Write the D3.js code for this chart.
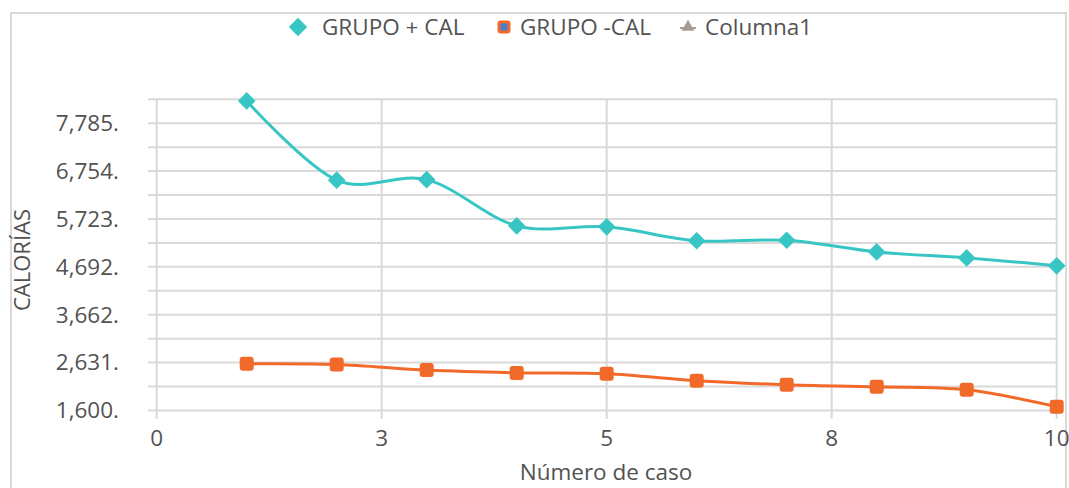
<!DOCTYPE html>
<html><head><meta charset="utf-8">
<script src="https://cdn.jsdelivr.net/npm/d3@7"></script>
<style>
body{margin:0;background:#fff;}
svg{display:block;font-family:"Open Sans",sans-serif;}
</style></head>
<body>
<script>
const caseNumbers = [1,2,3,4,5,6,7,8,9,10];
const grupoMasCal = [8265,6560,6570,5575,5555,5255,5265,5015,4885,4715];
const grupoMenosCal = [2605,2590,2470,2410,2390,2240,2155,2110,2045,1680];
const seriesNames = ["GRUPO + CAL","GRUPO -CAL","Columna1"];
const xTicks = [0,2.5,5,7.5,10];
const yMin = 1600, yMajorStep = 1030.8, yMajorCount = 7;
const xTitle = "Número de caso";
const yTitle = "CALORÍAS";

const W = 1069, H = 488;
const svg = d3.select("body").append("svg").attr("width",W).attr("height",H);

// chart border
svg.append("rect").attr("x",11).attr("y",13).attr("width",1055).attr("height",500)
  .attr("fill","none").attr("stroke","#d9d9d9").attr("stroke-width",2);

const yMajor = d3.range(yMajorCount).map(i => yMin + i*yMajorStep);
const yGrid = d3.range(yMajorCount*2).map(i => yMin + i*yMajorStep/2);
const yMax = yGrid[yGrid.length-1];

const x = d3.scaleLinear().domain([0,10]).range([156.7,1056.7]);
const y = d3.scaleLinear().domain([yMin,yMax]).range([410.5,99.3]);

const grid = svg.append("g");
grid.selectAll("line.h").data(yGrid).join("line").attr("class","h")
  .attr("x1",148).attr("x2",x(10)).attr("y1",d=>y(d)).attr("y2",d=>y(d))
  .attr("stroke","#d9d9d9").attr("stroke-width",2);
grid.selectAll("line.v").data(xTicks).join("line").attr("class","v")
  .attr("x1",d=>x(d)).attr("x2",d=>x(d)).attr("y1",y(yMax)).attr("y2",419)
  .attr("stroke","#d9d9d9").attr("stroke-width",2);

const fs = 22.5, txt = "#525252";
// y labels
const fmtY = v => d3.format(",.0f")(v) + ".";
svg.append("g").selectAll("text").data(yMajor).join("text")
  .attr("x",119).attr("y",d=>y(d)).attr("dy","0.35em").attr("text-anchor","end")
  .attr("font-size",fs).attr("fill",txt).text(fmtY);

// x labels
svg.append("g").selectAll("text").data(xTicks).join("text")
  .attr("x",d=>x(d)).attr("y",438).attr("dy","0.35em").attr("text-anchor","middle")
  .attr("font-size",fs).attr("fill",txt).text(d=>d3.format(".0f")(d));

// titles
svg.append("text").attr("x",606).attr("y",472).attr("dy","0.35em").attr("text-anchor","middle")
  .attr("font-size",22.5).attr("fill",txt).text(xTitle);
svg.append("text").attr("transform","translate(22,260) rotate(-90)").attr("dy","0.35em")
  .attr("text-anchor","middle").attr("font-size",22).attr("fill",txt).text(yTitle);

const teal = "#38c6c4", orange = "#f26a2a", gray = "#a89c92";
const line = d3.line().x((d,i)=>x(caseNumbers[i])).y(d=>y(d)).curve(d3.curveCardinal.tension(0));

svg.append("path").datum(grupoMenosCal).attr("d",line).attr("fill","none")
  .attr("stroke",orange).attr("stroke-width",3);
svg.append("path").datum(grupoMasCal).attr("d",line).attr("fill","none")
  .attr("stroke",teal).attr("stroke-width",3);

const diamond = (g,cx,cy,s) => g.append("rect").attr("x",cx-s/2).attr("y",cy-s/2).attr("width",s).attr("height",s)
  .attr("transform",`rotate(45,${cx},${cy})`).attr("fill",teal);
const square = (g,cx,cy,s) => g.append("rect").attr("x",cx-s/2).attr("y",cy-s/2).attr("width",s).attr("height",s)
  .attr("rx",3).attr("fill",orange);

const mk = svg.append("g");
grupoMasCal.forEach((v,i)=>diamond(mk,x(caseNumbers[i]),y(v),12.5));
grupoMenosCal.forEach((v,i)=>square(mk,x(caseNumbers[i]),y(v),14));

// legend
const lg = svg.append("g");
const legendY = 27;
const lgItems = [{x:298,tx:322},{x:504,tx:520},{x:688,tx:705}];
diamond(lg,lgItems[0].x,legendY,13);
square(lg,lgItems[1].x,legendY,13);
lg.append("rect").attr("x",lgItems[1].x-3.5).attr("y",legendY-3.5).attr("width",7).attr("height",7).attr("fill","#4a7fd0");
lg.append("path").attr("d",d3.symbol(d3.symbolTriangle,70)()).attr("transform",`translate(${lgItems[2].x},${legendY})`).attr("fill",gray);
lg.append("line").attr("x1",lgItems[2].x-8).attr("x2",lgItems[2].x+8).attr("y1",legendY+1).attr("y2",legendY+1).attr("stroke",gray).attr("stroke-width",2);
lg.selectAll("text").data(seriesNames).join("text")
  .attr("x",(d,i)=>lgItems[i].tx).attr("y",legendY).attr("dy","0.35em")
  .attr("font-size",fs).attr("fill",txt).text(d=>d);
</script>
</body></html>
